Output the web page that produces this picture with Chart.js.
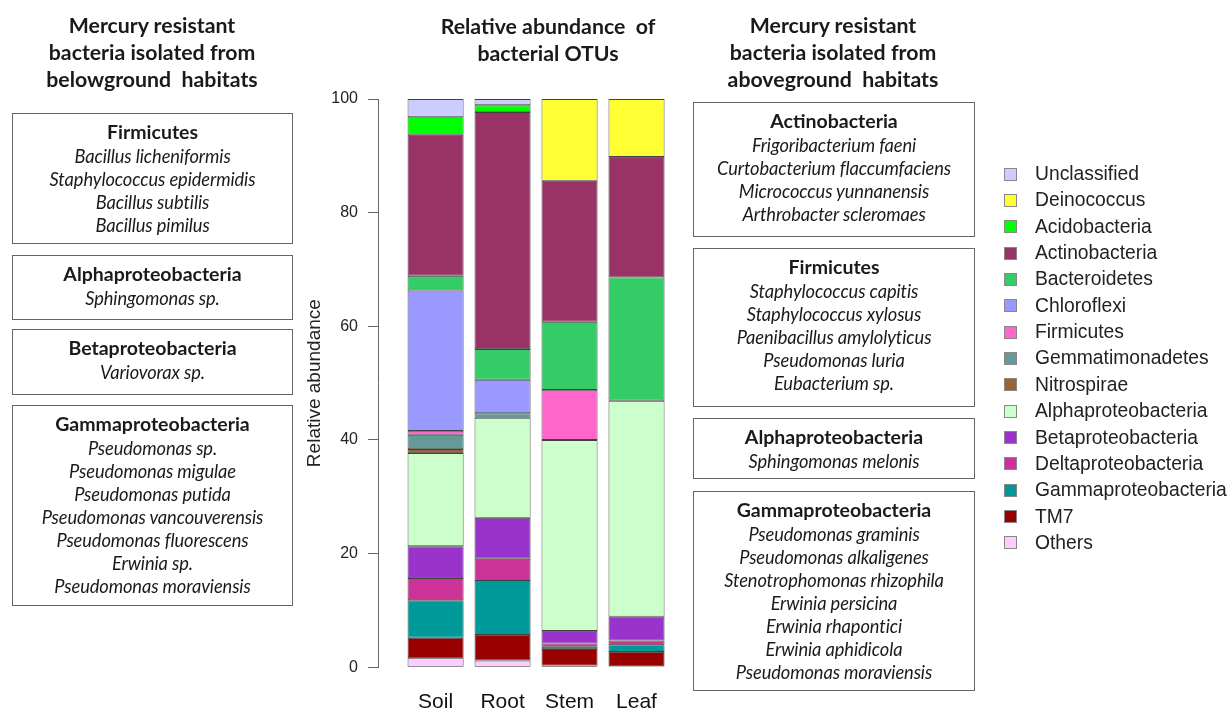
<!DOCTYPE html>
<html><head><meta charset="utf-8">
<script src="https://cdn.jsdelivr.net/npm/chart.js@4.4.1/dist/chart.umd.min.js"></script>
<style>
html,body{margin:0;padding:0;background:#fff;}
#wrap{position:relative;width:1231px;height:711px;overflow:hidden;font-family:Lato,'Open Sans',sans-serif;color:#1a1a1a;}
#c{position:absolute;left:0;top:0;}
.hdr{position:absolute;text-align:center;font-weight:bold;font-size:21.3px;line-height:27px;white-space:pre;}
.box{position:absolute;box-sizing:border-box;border:1.5px solid #666;text-align:center;padding-top:5.5px;white-space:nowrap;}
.box .h{font-weight:bold;font-size:19.5px;line-height:24px;}
.box .i{font-style:italic;font-size:18.3px;line-height:23px;letter-spacing:-0.1px;}
.box .i.first{margin-top:1px;}
.leg{position:absolute;left:1004px;font-family:'Liberation Sans',Arial,sans-serif;font-size:19.3px;color:#222;}
.leg span.sw{position:absolute;left:0;width:13px;height:13px;box-sizing:border-box;border:1px solid #888;}
.leg span.tx{position:absolute;left:31px;white-space:nowrap;line-height:20px;}
</style></head>
<body><div id="wrap">
<canvas id="c" width="1231" height="711"></canvas>
<div class="hdr" style="left:2px;width:300px;top:12px;">Mercury resistant
bacteria isolated from
belowground  habitats</div>
<div class="hdr" style="left:398px;width:300px;top:13px;">Relative abundance  of
bacterial OTUs</div>
<div class="hdr" style="left:683px;width:300px;top:12px;">Mercury resistant
bacteria isolated from
aboveground  habitats</div>
<div id="boxes"></div>
<div id="legend"></div>
</div>
<script>
// ---- Data ----
const categories = ['Soil', 'Root', 'Stem', 'Leaf'];
// stack order, bottom to top
const taxa = ['Others', 'TM7', 'Gammaproteobacteria', 'Deltaproteobacteria', 'Betaproteobacteria',
  'Alphaproteobacteria', 'Nitrospirae', 'Gemmatimonadetes', 'Firmicutes', 'Chloroflexi',
  'Bacteroidetes', 'Actinobacteria', 'Acidobacteria', 'Deinococcus', 'Unclassified'];
const taxaColors = ['#FFCCFF', '#990000', '#009999', '#CC3399', '#9933CC',
  '#CCFFCC', '#996633', '#669999', '#FF66CC', '#9999FF',
  '#33CC66', '#993366', '#00FF00', '#FFFF33', '#CCCCFF'];
const soilValues = [1.6, 3.6, 6.6, 3.9, 5.6, 16.4, 0.7, 2.5, 0.7, 24.7, 2.6, 24.8, 3.1, 0, 3.2];
const rootValues = [1.2, 4.5, 9.5, 3.9, 7.2, 17.6, 0, 0.8, 0, 5.9, 5.4, 41.7, 1.2, 0, 1.1];
const stemValues = [0.3, 2.9, 0.4, 0.6, 2.2, 33.6, 0, 0, 8.8, 0, 12.0, 24.8, 0, 14.4, 0];
const leafValues = [0.2, 2.5, 1.2, 0.8, 4.2, 38.0, 0, 0, 0, 0, 21.7, 21.2, 0, 10.2, 0];
const yTicks = [0, 20, 40, 60, 80, 100];

// ---- Text boxes ----
const leftBoxes = [
  {h: 'Firmicutes', items: ['Bacillus licheniformis', 'Staphylococcus epidermidis', 'Bacillus subtilis', 'Bacillus pimilus']},
  {h: 'Alphaproteobacteria', items: ['Sphingomonas sp.']},
  {h: 'Betaproteobacteria', items: ['Variovorax sp.']},
  {h: 'Gammaproteobacteria', items: ['Pseudomonas sp.', 'Pseudomonas migulae', 'Pseudomonas putida', 'Pseudomonas vancouverensis', 'Pseudomonas fluorescens', 'Erwinia sp.', 'Pseudomonas moraviensis']}
];
const rightBoxes = [
  {h: 'Actinobacteria', items: ['Frigoribacterium faeni', 'Curtobacterium flaccumfaciens', 'Micrococcus yunnanensis', 'Arthrobacter scleromaes']},
  {h: 'Firmicutes', items: ['Staphylococcus capitis', 'Staphylococcus xylosus', 'Paenibacillus amylolyticus', 'Pseudomonas luria', 'Eubacterium sp.']},
  {h: 'Alphaproteobacteria', items: ['Sphingomonas melonis']},
  {h: 'Gammaproteobacteria', items: ['Pseudomonas graminis', 'Pseudomonas alkaligenes', 'Stenotrophomonas rhizophila', 'Erwinia persicina', 'Erwinia rhapontici', 'Erwinia aphidicola', 'Pseudomonas moraviensis']}
];
const leftBoxFrames = [[113, 244], [255, 320], [329, 395], [405, 606]];
const rightBoxFrames = [[102, 237], [248, 407], [418, 479], [491, 691]];

function makeBoxes(list, frames, left, width) {
  const host = document.getElementById('boxes');
  list.forEach((b, k) => {
    const d = document.createElement('div');
    d.className = 'box';
    d.style.left = left + 'px';
    d.style.width = width + 'px';
    d.style.top = frames[k][0] + 'px';
    d.style.height = (frames[k][1] - frames[k][0]) + 'px';
    let html = '<div class="h">' + b.h + '</div>';
    b.items.forEach((t, j) => { html += '<div class="i' + (j === 0 ? ' first' : '') + '">' + t + '</div>'; });
    d.innerHTML = html;
    host.appendChild(d);
  });
}
makeBoxes(leftBoxes, leftBoxFrames, 12, 281);
makeBoxes(rightBoxes, rightBoxFrames, 693, 282);

// ---- Legend (top to bottom = reverse stack order) ----
(function () {
  const host = document.getElementById('legend');
  const top0 = 174, step = 26.35;
  taxa.slice().reverse().forEach((t, k) => {
    const idx = taxa.length - 1 - k;
    const cy = top0 + k * step;
    const row = document.createElement('div');
    row.className = 'leg';
    row.style.top = cy + 'px';
    row.innerHTML = '<span class="sw" style="top:-6.5px;background:' + taxaColors[idx] + '"></span>' +
      '<span class="tx" style="top:-10px">' + t + '</span>';
    host.appendChild(row);
  });
})();

// ---- Chart ----
const valuesByCategory = [soilValues, rootValues, stemValues, leafValues];
const datasets = taxa.map((t, ti) => ({
  label: t,
  data: categories.map((c, ci) => ({x: ci + 1, y: valuesByCategory[ci][ti]})),
  backgroundColor: taxaColors[ti],
  borderColor: 'rgba(30,30,30,0.85)',
  borderWidth: 0.9,
  borderSkipped: false,
  barPercentage: 0.837,
  categoryPercentage: 1
}));

new Chart(document.getElementById('c'), {
  type: 'bar',
  data: {datasets},
  options: {
    responsive: false,
    animation: false,
    layout: {padding: {left: 303, top: 99, right: 561, bottom: 0}},
    plugins: {legend: {display: false}, tooltip: {enabled: false}},
    scales: {
      x: {
        type: 'linear', stacked: true, min: 0.14, max: 4.5, offset: false,
        grid: {display: false, drawTicks: false, offset: false},
        border: {display: false},
        afterBuildTicks: s => { s.ticks = categories.map((c, i) => ({value: i + 1})); },
        ticks: {
          callback: v => categories[v - 1] || '',
          font: {family: "'Liberation Sans', Arial, sans-serif", size: 21},
          color: '#111', padding: 22, maxRotation: 0, autoSkip: false
        },
        afterFit: s => { s.height = 43.7; }
      },
      y: {
        stacked: true, min: 0, max: 100,
        afterBuildTicks: s => { s.ticks = yTicks.map(v => ({value: v})); },
        ticks: {font: {family: "'Liberation Sans', Arial, sans-serif", size: 16}, color: '#222', padding: 10},
        grid: {drawOnChartArea: false, drawTicks: true, tickLength: 10, color: '#666'},
        border: {color: '#666', width: 1},
        title: {display: true, text: 'Relative abundance', font: {family: "'Liberation Sans', Arial, sans-serif", size: 19}, color: '#222', padding: 0},
        afterFit: s => { s.width = 75; }
      }
    }
  }
});
</script>
</body></html>
